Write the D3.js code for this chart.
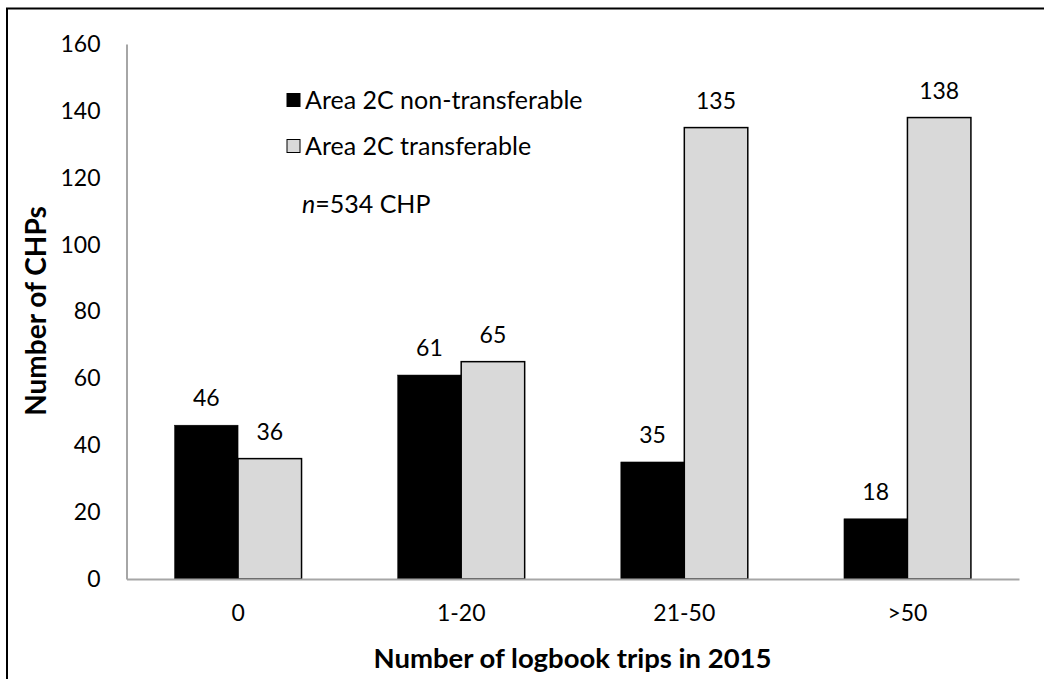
<!DOCTYPE html>
<html><head><meta charset="utf-8">
<script src="https://cdn.jsdelivr.net/npm/d3@7"></script>
<style>
html,body{margin:0;padding:0;background:#fff;}
svg{display:block;}
text{font-family:Lato,"Open Sans",sans-serif;fill:#000;}
</style></head>
<body>
<svg id="c" width="1044" height="679"></svg>
<script>
const categories = ["0", "1-20", "21-50", ">50"];
const seriesNames = ["Area 2C non-transferable", "Area 2C transferable"];
const nonTransferable = [46, 61, 35, 18];
const transferable = [36, 65, 135, 138];
const yTicks = [0, 20, 40, 60, 80, 100, 120, 140, 160];
const annotation = "=534 CHP";

const colors = ["#000000", "#d9d9d9"];
const series = [nonTransferable, transferable];

const svg = d3.select("#c");
const FS = 23;      // numbers
const FL = 25;      // legend text
const FTX = 27.5;   // x axis title
const FTY = 28;     // y axis title

// outer frame (right/bottom edges outside view)
svg.append("rect").attr("x", 7).attr("y", 8.5).attr("width", 1100).attr("height", 800)
  .attr("fill", "none").attr("stroke", "#000").attr("stroke-width", 2);

const x0 = d3.scaleBand().domain(categories).range([126.5, 1019]).paddingInner(0.431).paddingOuter(0.2155);
const x1 = d3.scaleBand().domain(d3.range(series.length)).range([0, x0.bandwidth()]).padding(0);
const y = d3.scaleLinear().domain([0, 160]).range([579, 44]);

// y axis
const yAxis = d3.axisLeft(y).tickValues(yTicks).tickSize(0).tickPadding(26);
const gy = svg.append("g").attr("transform", "translate(126.5,0)").call(yAxis);
gy.select(".domain").attr("stroke", "#a6a6a6").attr("stroke-width", 2);
gy.selectAll("text").attr("font-size", FS).attr("font-family", "Lato");

// bars
categories.forEach((c, i) => {
  series.forEach((s, k) => {
    svg.append("rect")
      .attr("x", x0(c) + x1(k))
      .attr("y", y(s[i]))
      .attr("width", x1.bandwidth())
      .attr("height", y(0) - y(s[i]))
      .attr("fill", colors[k])
      .attr("stroke", "#000").attr("stroke-width", k === 1 ? 1.5 : 0.5);
    svg.append("text")
      .attr("x", x0(c) + x1(k) + x1.bandwidth() / 2)
      .attr("y", y(s[i]) - 19)
      .attr("text-anchor", "middle")
      .attr("font-size", FS)
      .text(s[i]);
  });
});

// x axis
const xAxis = d3.axisBottom(x0).tickSize(0).tickPadding(26);
const gx = svg.append("g").attr("transform", "translate(0,579)").call(xAxis);
gx.select(".domain").attr("stroke", "#a6a6a6").attr("stroke-width", 2);
gx.selectAll("text").attr("font-size", FS).attr("font-family", "Lato");

// axis titles
svg.append("text").attr("x", 572.5).attr("y", 668).attr("text-anchor", "middle")
  .attr("font-size", FTX).attr("font-weight", "bold").text("Number of logbook trips in 2015");
svg.append("text").attr("transform", "translate(46,311) rotate(-90)").attr("text-anchor", "middle")
  .attr("font-size", FTY).attr("font-weight", "bold").text("Number of CHPs");

// legend
const legY = [100, 146];
seriesNames.forEach((n, k) => {
  svg.append("rect").attr("x", 287).attr("y", legY[k] - 6.5).attr("width", 13).attr("height", 13)
    .attr("fill", colors[k]).attr("stroke", "#000").attr("stroke-width", 1);
  svg.append("text").attr("x", 305).attr("y", legY[k]).attr("dy", "0.35em")
    .attr("font-size", FL).text(n);
});
const ann = svg.append("text").attr("x", 302).attr("y", 204).attr("dy", "0.35em").attr("font-size", FL);
ann.append("tspan").attr("font-style", "italic").text("n");
ann.append("tspan").text(annotation);
</script>
</body></html>
